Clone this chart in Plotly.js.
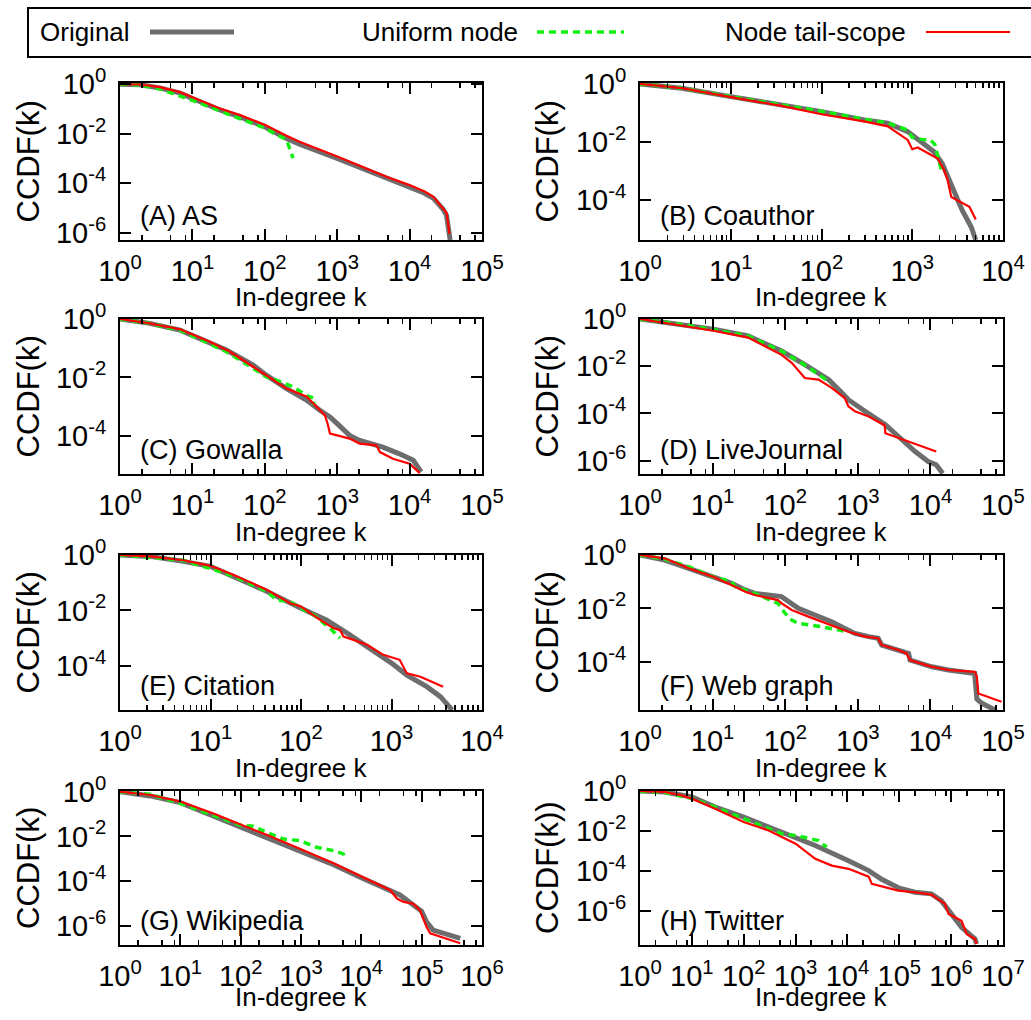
<!DOCTYPE html>
<html><head><meta charset="utf-8">
<script src="https://cdn.plot.ly/plotly-3.0.1.min.js"></script>
<style>html,body{margin:0;padding:0;background:#fff}</style>
</head><body><div id="chart" style="width:1031px;height:1020px"></div>
<script>
// Values as log10(k) and log10(CCDF(k)).
// (A) AS
const asOrigLogK = [0, 0.28, 0.55, 0.83, 1.10, 1.38, 1.66, 2.0, 2.3, 2.48, 3.0, 3.4, 3.68, 4.0, 4.2, 4.33, 4.46, 4.51, 4.53, 4.56];
const asOrigLogP = [0, -0.02, -0.15, -0.36, -0.70, -1.04, -1.32, -1.72, -2.19, -2.42, -3.0, -3.47, -3.81, -4.15, -4.40, -4.62, -5.05, -5.3, -5.7, -6.3];
const asUnifLogK = [0, 0.28, 0.55, 1.10, 1.66, 2.0, 2.16, 2.30, 2.34, 2.39];
const asUnifLogP = [0, -0.03, -0.19, -0.76, -1.40, -1.77, -2.04, -2.24, -2.58, -2.99];
const asTailLogK = [0, 0.28, 0.55, 0.83, 1.10, 1.38, 1.66, 2.0, 2.3, 2.48, 3.0, 3.4, 3.68, 4.0, 4.2, 4.33, 4.46, 4.51, 4.53, 4.55];
const asTailLogP = [0, -0.01, -0.12, -0.32, -0.65, -0.98, -1.25, -1.64, -2.08, -2.33, -2.92, -3.40, -3.74, -4.08, -4.33, -4.55, -5.0, -5.2, -5.6, -6.05];
// (B) Coauthor
const coOrigLogK = [0, 0.46, 1.0, 1.56, 2.0, 2.47, 2.73, 2.95, 3.0, 3.13, 3.24, 3.33, 3.39, 3.46, 3.55, 3.65, 3.70];
const coOrigLogP = [0, -0.15, -0.44, -0.73, -0.96, -1.25, -1.36, -1.65, -1.77, -2.10, -2.35, -2.75, -3.21, -3.79, -4.37, -4.95, -5.4];
const coUnifLogK = [0, 0.46, 1.0, 1.56, 2.0, 2.47, 2.73, 2.95, 3.0, 3.1, 3.2, 3.25, 3.29, 3.32];
const coUnifLogP = [0, -0.15, -0.44, -0.72, -0.95, -1.22, -1.35, -1.6, -1.85, -1.92, -1.94, -2.1, -2.6, -2.98];
const coTailLogK = [0, 0.46, 1.0, 1.56, 2.0, 2.47, 2.73, 2.95, 3.0, 3.06, 3.2, 3.28, 3.35, 3.39, 3.43, 3.5, 3.63, 3.70];
const coTailLogP = [0, -0.15, -0.46, -0.76, -1.05, -1.30, -1.47, -1.94, -2.26, -2.2, -2.44, -2.58, -2.98, -3.33, -3.91, -4.02, -4.25, -4.69];
// (C) Gowalla
const goOrigLogK = [0, 0.41, 0.83, 1.10, 1.47, 1.84, 2.02, 2.30, 2.58, 2.76, 2.90, 3.0, 3.17, 3.31, 3.63, 3.86, 4.05, 4.16];
const goOrigLogP = [0, -0.15, -0.38, -0.66, -1.06, -1.58, -1.92, -2.38, -2.78, -3.12, -3.35, -3.58, -3.98, -4.15, -4.38, -4.61, -4.83, -5.23];
const goUnifLogK = [0, 0.41, 0.83, 1.47, 1.84, 2.02, 2.16, 2.39, 2.58, 2.69, 2.67];
const goUnifLogP = [0, -0.15, -0.38, -1.12, -1.69, -1.98, -2.09, -2.32, -2.62, -2.72, -2.95];
const goTailLogK = [0, 0.41, 0.83, 1.24, 1.52, 1.84, 2.02, 2.30, 2.58, 2.83, 2.87, 2.90, 3.0, 3.17, 3.31, 3.54, 3.59, 3.77, 4.0, 4.14];
const goTailLogP = [0, -0.15, -0.35, -0.78, -1.12, -1.63, -1.92, -2.38, -2.66, -3.29, -3.6, -3.92, -3.98, -4.09, -4.26, -4.32, -4.55, -4.78, -4.95, -5.27];
// (D) LiveJournal
const ljOrigLogK = [0, 0.57, 1.03, 1.49, 1.95, 2.27, 2.60, 2.78, 2.87, 3.10, 3.38, 3.56, 3.79, 3.97, 4.08, 4.17];
const ljOrigLogP = [0, -0.23, -0.44, -0.72, -1.36, -1.93, -2.57, -3.13, -3.42, -3.91, -4.48, -4.98, -5.62, -6.04, -6.18, -6.55];
const ljUnifLogK = [0, 0.57, 1.03, 1.49, 1.95, 2.27, 2.50, 2.62];
const ljUnifLogP = [0, -0.23, -0.46, -0.72, -1.36, -1.95, -2.43, -2.71];
const ljTailLogK = [0, 0.57, 1.03, 1.49, 1.95, 2.09, 2.27, 2.46, 2.64, 2.82, 2.87, 2.96, 3.15, 3.37, 3.38, 4.08];
const ljTailLogP = [0, -0.27, -0.51, -0.79, -1.52, -1.86, -2.50, -2.57, -2.92, -3.35, -3.70, -3.91, -4.13, -4.50, -4.84, -5.62];
// (E) Citation
const ciOrigLogK = [0, 0.33, 0.70, 1.0, 1.25, 1.62, 2.0, 2.28, 2.51, 2.73, 3.0, 3.17, 3.39, 3.54, 3.67];
const ciOrigLogP = [0, -0.05, -0.23, -0.41, -0.77, -1.31, -1.92, -2.34, -2.82, -3.30, -3.90, -4.33, -4.75, -5.11, -5.59];
const ciUnifLogK = [0, 0.70, 1.25, 1.62, 1.73, 1.88, 2.0, 2.14, 2.32, 2.43];
const ciUnifLogP = [0, -0.19, -0.75, -1.31, -1.62, -1.68, -1.92, -2.16, -2.64, -3.0];
const ciTailLogK = [0, 0.33, 0.70, 1.0, 1.25, 1.62, 1.88, 2.0, 2.21, 2.36, 2.43, 2.47, 2.58, 2.73, 2.91, 3.09, 3.17, 3.32, 3.57];
const ciTailLogP = [0, -0.05, -0.19, -0.39, -0.71, -1.25, -1.74, -1.86, -2.34, -2.64, -2.70, -2.94, -3.06, -3.24, -3.60, -3.78, -4.27, -4.39, -4.75];
// (F) Web graph
const wbOrigLogK = [0, 0.34, 0.67, 1.0, 1.26, 1.45, 1.58, 1.95, 2.18, 2.41, 2.64, 2.82, 2.96, 3.15, 3.28, 3.33, 3.56, 3.70, 3.72, 4.02, 4.25, 4.48, 4.61, 4.64, 4.71, 4.89];
const wbOrigLogP = [0, -0.19, -0.5, -0.81, -1.06, -1.31, -1.44, -1.56, -2.0, -2.25, -2.5, -2.75, -2.94, -3.06, -3.12, -3.38, -3.56, -3.69, -3.94, -4.19, -4.31, -4.38, -4.44, -5.4, -5.56, -5.81];
const wbUnifLogK = [0, 0.34, 0.67, 1.0, 1.26, 1.31, 1.58, 1.81, 1.90, 2.0, 2.09, 2.18, 2.50, 2.87];
const wbUnifLogP = [0, -0.15, -0.44, -0.81, -1.0, -1.19, -1.44, -1.69, -1.81, -2.19, -2.44, -2.56, -2.69, -2.88];
const wbTailLogK = [0, 0.34, 0.67, 1.0, 1.31, 1.45, 1.58, 1.90, 1.95, 2.09, 2.32, 2.87, 3.10, 3.28, 3.33, 3.56, 3.67, 3.72, 3.93, 4.02, 4.25, 4.61, 4.64, 4.66, 4.98];
const wbTailLogP = [0, -0.125, -0.5, -0.81, -1.19, -1.375, -1.5, -1.69, -1.81, -2.06, -2.31, -2.88, -3.06, -3.12, -3.38, -3.56, -3.69, -3.94, -4.12, -4.19, -4.31, -4.38, -4.56, -5.19, -5.5];
// (G) Wikipedia
const wkOrigLogK = [0, 0.50, 1.0, 1.55, 2.0, 2.43, 3.0, 3.54, 4.0, 4.64, 5.0, 5.08, 5.19, 5.64];
const wkOrigLogP = [0, -0.19, -0.49, -1.08, -1.56, -2.02, -2.66, -3.27, -3.85, -4.62, -5.35, -5.82, -6.19, -6.56];
const wkUnifLogK = [0, 0.50, 1.0, 1.55, 2.0, 2.21, 2.43, 2.71, 2.98, 3.26, 3.54, 3.70, 3.73];
const wkUnifLogP = [0, -0.12, -0.52, -1.05, -1.50, -1.55, -1.82, -2.12, -2.19, -2.49, -2.64, -2.78, -3.0];
const wkTailLogK = [0, 0.50, 1.0, 1.55, 2.0, 2.43, 3.0, 3.54, 4.0, 4.48, 4.59, 4.70, 4.86, 4.97, 5.08, 5.14, 5.64];
const wkTailLogP = [0, -0.15, -0.44, -0.98, -1.47, -1.93, -2.58, -3.2, -3.80, -4.41, -4.78, -4.93, -5.01, -5.30, -6.04, -6.34, -6.78];
// (H) Twitter
const twOrigLogK = [0, 0.48, 1.0, 1.45, 2.0, 2.48, 3.0, 3.38, 4.0, 4.41, 4.66, 5.0, 5.30, 5.62, 5.81, 5.95, 6.2, 6.46, 6.49];
const twOrigLogP = [0, -0.05, -0.30, -0.80, -1.30, -1.80, -2.30, -2.72, -3.45, -3.97, -4.40, -4.85, -5.05, -5.13, -5.47, -5.97, -6.80, -7.38, -7.63];
const twUnifLogK = [0, 0.48, 1.0, 1.45, 2.0, 2.48, 2.73, 3.0, 3.44, 3.60];
const twUnifLogP = [0, -0.07, -0.38, -0.80, -1.38, -1.88, -2.13, -2.22, -2.47, -2.80];
const twTailLogK = [0, 0.48, 0.80, 1.0, 1.45, 2.0, 2.48, 2.73, 3.0, 3.38, 3.70, 4.02, 4.41, 4.47, 4.98, 5.30, 5.62, 5.88, 5.95, 6.2, 6.27, 6.30, 6.46, 6.49];
const twTailLogP = [0, -0.05, -0.22, -0.38, -0.88, -1.55, -1.97, -2.30, -2.63, -3.38, -3.72, -3.88, -4.27, -4.63, -4.97, -5.05, -5.17, -5.63, -6.13, -6.47, -6.88, -7.13, -7.38, -7.63];

const panelLabels = ["(A) AS", "(B) Coauthor", "(C) Gowalla", "(D) LiveJournal", "(E) Citation", "(F) Web graph", "(G) Wikipedia", "(H) Twitter"];
const yTitles = ["CCDF(k)", "CCDF(k)", "CCDF(k)", "CCDF(k)", "CCDF(k)", "CCDF(k)", "CCDF(k)", "CCDF(k))"];
const xTitle = "In-degree k";
const seriesNames = ["Original", "Uniform node", "Node tail-scope"];
const xMaxExp = [5, 4, 5, 5, 4, 5, 6, 7];
const yMinExp = [-6.3, -5.4, -5.3, -6.57, -5.59, -5.81, -6.86, -7.68];
const yTopExp = [0.05, 0.03, 0.0, 0.0, 0.0, 0.0, 0.03, 0.0];

const origK = [asOrigLogK, coOrigLogK, goOrigLogK, ljOrigLogK, ciOrigLogK, wbOrigLogK, wkOrigLogK, twOrigLogK];
const origP = [asOrigLogP, coOrigLogP, goOrigLogP, ljOrigLogP, ciOrigLogP, wbOrigLogP, wkOrigLogP, twOrigLogP];
const unifK = [asUnifLogK, coUnifLogK, goUnifLogK, ljUnifLogK, ciUnifLogK, wbUnifLogK, wkUnifLogK, twUnifLogK];
const unifP = [asUnifLogP, coUnifLogP, goUnifLogP, ljUnifLogP, ciUnifLogP, wbUnifLogP, wkUnifLogP, twUnifLogP];
const tailK = [asTailLogK, coTailLogK, goTailLogK, ljTailLogK, ciTailLogK, wbTailLogK, wkTailLogK, twTailLogK];
const tailP = [asTailLogP, coTailLogP, goTailLogP, ljTailLogP, ciTailLogP, wbTailLogP, wkTailLogP, twTailLogP];

const toVal = arr => arr.map(e => Math.pow(10, e));

const W = 1031, H = 1020;
const colL = [120, 640], colR = [482, 1003];
const rowT = [83, 319, 555, 791], rowB = [240, 474, 710, 945];
const xTitleY = [297, 532, 768, 997];
const yTitleX = [28, 547];
const FONT = "Liberation Sans, Arial, Helvetica, sans-serif";
const GRAY = "#6d6d6d", GREEN = "#11ee11", RED = "#ff0000";

const traces = [];
const layout = {
  width: W, height: H, margin: {l: 0, r: 0, t: 0, b: 0},
  paper_bgcolor: "#fff", plot_bgcolor: "#fff", showlegend: false,
  font: {family: FONT, color: "#000"},
  annotations: [], shapes: []
};

for (let i = 0; i < 8; i++) {
  const c = i % 2, r = Math.floor(i / 2);
  const n = i === 0 ? "" : String(i + 1);
  const xa = "x" + n, ya = "y" + n;
  const specs = [
    [origK[i], origP[i], {color: GRAY, width: 5}, seriesNames[0]],
    [unifK[i], unifP[i], {color: GREEN, width: 3.5, dash: "7px,5px"}, seriesNames[1]],
    [tailK[i], tailP[i], {color: RED, width: 2.2}, seriesNames[2]]
  ];
  specs.forEach(s => traces.push({
    type: "scatter", mode: "lines", x: toVal(s[0]), y: toVal(s[1]),
    line: s[2], name: s[3], xaxis: xa, yaxis: ya, hoverinfo: "skip"
  }));

  const xt = [], xtt = [], xm = [];
  const mins = (c === 0 && r === 2) || (c === 1 && r === 0) ? [2,3,4,5,6,7,8,9] : [2,5,8];
  for (let e = 0; e <= xMaxExp[i]; e++) {
    xt.push(Math.pow(10, e)); xtt.push("10<sup>" + e + "</sup>");
    if (e < xMaxExp[i]) mins.forEach(m => xm.push(m * Math.pow(10, e)));
  }
  const yt = [], ytt = [];
  for (let e = 0; e >= yMinExp[i]; e -= 2) { yt.push(Math.pow(10, e)); ytt.push("10<sup>" + e + "</sup>"); }

  layout["xaxis" + n] = {
    type: "log", domain: [colL[c] / W, colR[c] / W], range: [0, xMaxExp[i]], anchor: ya,
    tickmode: "array", tickvals: xt, ticktext: xtt, ticks: "inside", ticklen: 11, tickwidth: 2,
    tickcolor: "#000", mirror: "allticks", showline: true, linewidth: 2, linecolor: "#000",
    showgrid: false, zeroline: false, tickfont: {size: 29, family: FONT, color: "#000"},
    ticklabelstandoff: 4,
    minor: {tickmode: "array", tickvals: xm, ticks: "inside", ticklen: 5, tickwidth: 1.5, tickcolor: "#000", showgrid: false}
  };
  layout["yaxis" + n] = {
    type: "log", domain: [1 - rowB[r] / H, 1 - rowT[r] / H], range: [yMinExp[i], yTopExp[i]], anchor: xa,
    tickmode: "array", tickvals: yt, ticktext: ytt, ticks: "inside", ticklen: 11, tickwidth: 2,
    tickcolor: "#000", mirror: "allticks", showline: true, linewidth: 2, linecolor: "#000",
    showgrid: false, zeroline: false, tickfont: {size: 29, family: FONT, color: "#000"},
    ticklabelstandoff: 6
  };

  layout.annotations.push({
    text: panelLabels[i], xref: "paper", yref: "paper", x: (colL[c] + 18) / W, y: 1 - (rowB[r] - 24) / H,
    xanchor: "left", yanchor: "middle", showarrow: false, font: {size: 27, family: FONT, color: "#000"}
  });
  layout.annotations.push({
    text: xTitle, xref: "paper", yref: "paper", x: (colL[c] + colR[c]) / 2 / W, y: 1 - xTitleY[r] / H,
    xanchor: "center", yanchor: "middle", showarrow: false, font: {size: 26, family: FONT, color: "#000"}
  });
  layout.annotations.push({
    text: yTitles[i], xref: "paper", yref: "paper", x: yTitleX[c] / W, y: 1 - (rowT[r] + rowB[r]) / 2 / H,
    xanchor: "center", yanchor: "middle", textangle: -90, showarrow: false, font: {size: 31, family: FONT, color: "#000"}
  });
}

// Legend box drawn as a key above the panels
layout.shapes.push({type: "rect", xref: "paper", yref: "paper", x0: 28 / W, x1: 1.02, y0: 1 - 57 / H, y1: 1 - 8 / H,
  line: {color: "#000", width: 2}, fillcolor: "rgba(0,0,0,0)"});
const legY = 1 - 32 / H;
const legendSamples = [
  {textRight: 132, x0: 150, x1: 234, line: {color: GRAY, width: 5}},
  {textRight: 520, x0: 537, x1: 624, line: {color: GREEN, width: 3.5, dash: "7px,5px"}},
  {textRight: 908, x0: 926, x1: 1010, line: {color: RED, width: 2.2}}
];
legendSamples.forEach((s, j) => {
  layout.annotations.push({text: seriesNames[j], xref: "paper", yref: "paper", x: s.textRight / W, y: legY,
    xanchor: "right", yanchor: "middle", showarrow: false, font: {size: 26, family: FONT, color: "#000"}});
  layout.shapes.push({type: "line", xref: "paper", yref: "paper", x0: s.x0 / W, x1: s.x1 / W, y0: legY, y1: legY, line: s.line});
});

Plotly.newPlot("chart", traces, layout, {staticPlot: true, displayModeBar: false});
</script>
</body></html>
